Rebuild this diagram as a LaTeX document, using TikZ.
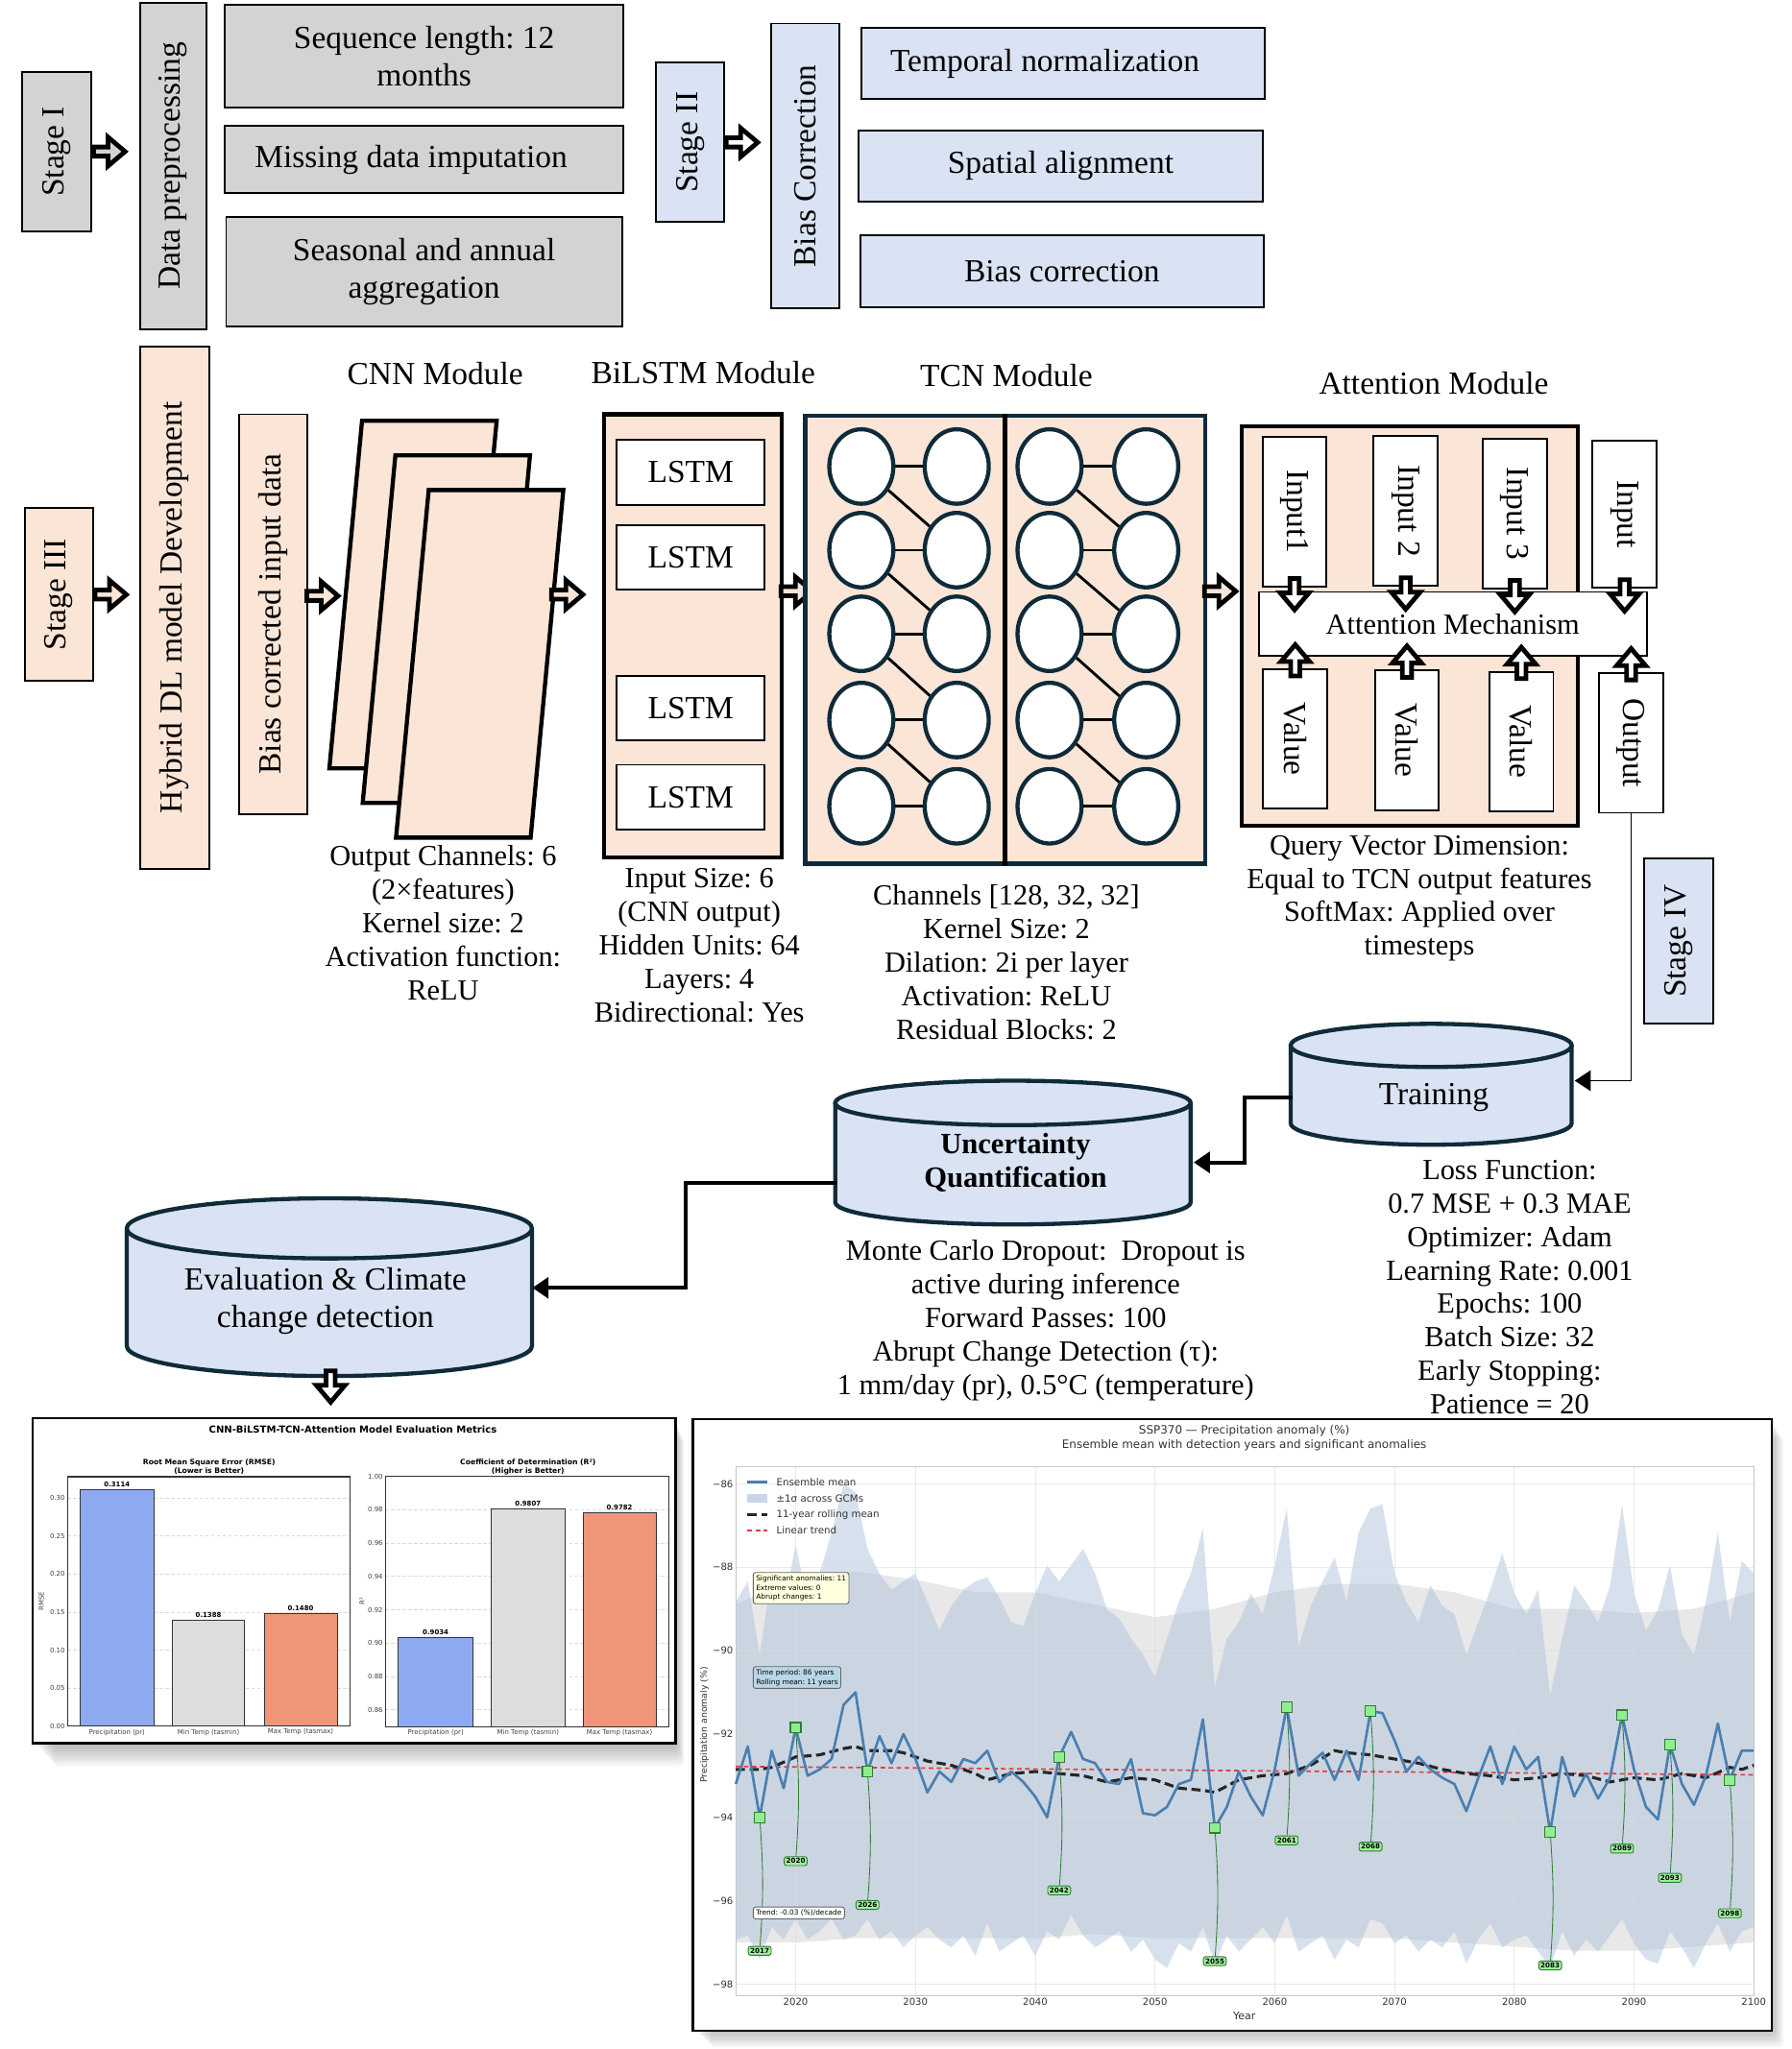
\documentclass[tikz,border=0pt]{standalone}
\usepackage{graphicx}
\usepackage{fontspec}
\setmainfont{Liberation Serif}
\newfontfamily\plotfont{DejaVu Sans}
\frenchspacing
\usetikzlibrary{positioning, arrows.meta, calc, shapes.geometric}
\definecolor{stonegrey}{HTML}{D3D3D3}
\definecolor{iceblue}{HTML}{DAE3F3}
\definecolor{peach}{HTML}{FBE5D6}
\definecolor{inkblue}{HTML}{0F2B3A}
\definecolor{meanblue}{HTML}{4A7FB0}
\definecolor{sigmablue}{HTML}{B0C4DE}
\definecolor{barblue}{HTML}{8DAAF0}
\definecolor{bargrey}{HTML}{DDDDDD}
\definecolor{barsalmon}{HTML}{EE957A}
\definecolor{flagreen}{HTML}{90EE90}
\definecolor{leafgreen}{HTML}{2E7D32}
\definecolor{noteyellow}{HTML}{FFFFE0}
\definecolor{noteblue}{HTML}{B8D8E8}
\definecolor{trendred}{HTML}{E03C3C}

\tikzset{
  pics/hollow/.style={code={
    \draw[line width=2pt, fill=#1, line join=miter]
      (-12,-3.5) -- (-1,-3.5) -- (-1,-11) -- (12,0) -- (-1,11) -- (-1,3.5) -- (-12,3.5) -- cycle;}},
  pics/hollow/.default=white
}

% drum: centre x, top y, bottom y, x radius, y radius
\newcommand{\drum}[5]{%
  \fill[iceblue] (#1-#4,#2) -- (#1-#4,#3) arc[start angle=180, end angle=0, x radius=#4, y radius=#5] -- (#1+#4,#2) -- cycle;
  \draw[inkblue, line width=1.8pt] (#1-#4,#2) -- (#1-#4,#3) arc[start angle=180, end angle=0, x radius=#4, y radius=#5] -- (#1+#4,#2);
  \draw[inkblue, line width=1.8pt, fill=iceblue] (#1,#2) ellipse[x radius=#4, y radius=#5];}

\begin{document}
\begin{tikzpicture}[x=0.02cm, y=-0.02cm,
    box/.style={draw, line width=0.8pt, inner sep=0pt, align=center,
      font=\fontsize{14}{16.3}\selectfont},
    greybox/.style={box, fill=stonegrey},
    coolbox/.style={box, fill=iceblue},
    warmbox/.style={box, fill=peach},
    whitebox/.style={box, fill=white},
    heavy/.style={draw, line width=1.8pt, inner sep=0pt},
    neuron/.style={ellipse, draw=inkblue, line width=1.8pt, fill=white,
      minimum width=0.98cm, minimum height=1.14cm, inner sep=0pt},
    link/.style={line width=1.2pt},
    modtitle/.style={inner sep=0pt, font=\fontsize{14}{16}\selectfont},
    notes/.style={inner sep=0pt, align=center, font=\fontsize{12.7}{14.6}\selectfont},
    flow/.style={line width=1.7pt, -{Triangle[length=7pt, width=9pt]}},
    feed/.style={line width=0.8pt, -{Triangle[length=7pt, width=9pt]}},
    drumtext/.style={inner sep=0pt, align=center},
    panel/.style={draw, line width=0.9pt, fill=white, inner sep=0pt},
    plottitle/.style={inner sep=0pt, font=\plotfont\bfseries\fontsize{4.2}{5}\selectfont},
    plotsub/.style={inner sep=0pt, align=center, font=\plotfont\bfseries\fontsize{3.2}{3.9}\selectfont},
    ticktext/.style={inner sep=1pt, text=black!75, font=\plotfont\fontsize{2.9}{3.4}\selectfont},
    barval/.style={inner sep=1pt, font=\plotfont\bfseries\fontsize{2.9}{3.4}\selectfont},
    barline/.style={draw=black!80, line width=0.35pt},
    gridline/.style={black!14, line width=0.3pt},
    axisline/.style={black!80, line width=0.45pt},
    seriestext/.style={inner sep=1pt, text=black!80, font=\plotfont\fontsize{4.3}{5}\selectfont},
    meanline/.style={meanblue, line width=1.1pt, line join=round},
    rollline/.style={black!85, line width=1.3pt, dash pattern=on 4pt off 2pt},
    trendline/.style={trendred, line width=0.7pt, dash pattern=on 2pt off 1.5pt},
    leader/.style={leafgreen, line width=0.35pt},
    marksq/.style={draw=leafgreen, fill=flagreen, line width=0.5pt, minimum size=0.16cm, inner sep=0pt},
    flag/.style={draw=leafgreen, fill=flagreen!85, rounded corners=1pt, inner sep=0.8pt,
      font=\plotfont\bfseries\fontsize{3}{3.5}\selectfont},
    infobox/.style={draw=black!60, line width=0.4pt, rounded corners=1pt, align=left,
      inner sep=1.2pt, font=\plotfont\fontsize{3.1}{4.1}\selectfont}]

  \fill[white] (0,0) rectangle (1371,1568);
  \useasboundingbox (0,0) rectangle (1371,1568);

  % Stage I
  \node[greybox, minimum width=1.06cm, minimum height=2.44cm] (stage1) at (43.5,116) {\rotatebox{90}{Stage I}};
  \node[greybox, minimum width=1.02cm, minimum height=5cm] (prep) at (132.5,127) {\rotatebox{90}{Data preprocessing}};
  \node[greybox, minimum width=6.1cm, minimum height=1.56cm] (seqlen) at (324.5,43) {Sequence length: 12\\months};
  \node[greybox, minimum width=6.1cm, minimum height=1.04cm] (impute) at (324.5,122) {Missing data imputation\hspace*{0.4cm}};
  \node[greybox, minimum width=6.06cm, minimum height=1.68cm] (aggr) at (324.5,208) {Seasonal and annual\\aggregation};
  \pic at ($(stage1.east)+(13,0)$) {hollow=stonegrey};

  % Stage II
  \node[coolbox, minimum width=1.04cm, minimum height=2.44cm] (stage2) at (528,109) {\rotatebox{90}{Stage II}};
  \node[coolbox, minimum width=1.04cm, minimum height=4.36cm] (biascorr) at (616,127) {\rotatebox{90}{Bias Correction}};
  \node[coolbox, minimum width=6.18cm, minimum height=1.1cm] (tempnorm) at (813.5,48.5) {Temporal normalization\hspace*{0.56cm}};
  \node[coolbox, minimum width=6.18cm, minimum height=1.08cm] (spatial) at (811.5,127) {Spatial alignment};
  \node[coolbox, minimum width=6.18cm, minimum height=1.1cm] (bcstep) at (812.5,207.5) {Bias correction};
  \pic at ($(stage2.east)+(13,0)$) {hollow};

  % Stage III
  \node[warmbox, minimum width=1.04cm, minimum height=2.64cm] (stage3) at (45,455) {\rotatebox{90}{Stage III}};
  \node[warmbox, minimum width=1.06cm, minimum height=8cm] (hybrid) at (133.5,465) {\rotatebox{90}{Hybrid DL model Development}};
  \node[warmbox, minimum width=1.04cm, minimum height=6.12cm] (bcinput) at (209,470) {\rotatebox{90}{Bias corrected input data}};
  \pic at ($(stage3.east)+(13,0)$) {hollow=peach};
  \pic at ($(bcinput.east)+(11,-14)$) {hollow=peach};

  % CNN
  \node[modtitle] (cnntitle) at (333,286) {CNN Module};
  \foreach \d in {0,1,2}
    \draw[fill=peach, line width=1.8pt] ({277+25.5*\d},{322+26.5*\d}) -- ++(103,0) -- ++(-25,266) -- ++(-103,0) -- cycle;
  \coordinate (cnnout) at (423,455);
  \pic at ($(cnnout)+(11,0)$) {hollow=peach};
  \node[notes] (cnnnotes) at (339,706) {Output Channels: 6\\(2×features)\\Kernel size: 2\\Activation function:\\ReLU};

  % BiLSTM
  \node[modtitle] (lstmtitle) at (538,285) {BiLSTM Module};
  \node[heavy, fill=peach, minimum width=2.72cm, minimum height=6.78cm] (bilstm) at (530,486.5) {};
  \foreach \n/\y in {1/361.5, 2/426.5, 3/542, 4/610}
    \node[whitebox, minimum width=2.26cm, minimum height=0.99cm] (lstm\n) at (528.5,\y) {LSTM};
  \pic at ($(bilstm.east)+(10,-34)$) {hollow=peach};
  \node[notes] (lstmnotes) at (535,723.5) {Input Size: 6\\(CNN output)\\Hidden Units: 64\\Layers: 4\\Bidirectional: Yes};

  % TCN
  \node[modtitle] (tcntitle) at (770,287) {TCN Module};
  \node[heavy, draw=inkblue, fill=peach, minimum width=6.12cm, minimum height=6.86cm] (tcn) at (769,489.5) {};
  \draw[line width=1.8pt] (tcn.north) -- (tcn.south);
  \foreach \c/\x in {1/659, 2/732, 3/803, 4/877}
    \foreach \r/\y in {1/357, 2/421, 3/485, 4/551, 5/617}
      \node[neuron] (n\c\r) at (\x,\y) {};
  \foreach \r in {1,...,5} {
    \draw[link] (n1\r) -- (n2\r);
    \draw[link] (n3\r) -- (n4\r);
  }
  \foreach \r/\s in {1/2, 2/3, 3/4, 4/5} {
    \draw[link] (n1\r) -- (n2\s);
    \draw[link] (n3\r) -- (n4\s);
  }
  \pic at ($(tcn.east)+(10,-37)$) {hollow=peach};
  \node[notes] (tcnnotes) at (770,736.5) {Channels [128, 32, 32]\\Kernel Size: 2\\Dilation: 2i per layer\\Activation: ReLU\\Residual Blocks: 2};

  % Attention
  \node[modtitle] (atttitle) at (1097,293) {Attention Module};
  \node[heavy, fill=peach, minimum width=5.14cm, minimum height=6.12cm] (att) at (1078.5,479) {};
  \node[whitebox, minimum width=0.98cm, minimum height=2.3cm] (in1) at (990.5,391.5) {\rotatebox{-90}{Input1}};
  \node[whitebox, minimum width=0.98cm, minimum height=2.3cm] (in2) at (1075.5,391) {\rotatebox{-90}{Input 2}};
  \node[whitebox, minimum width=0.98cm, minimum height=2.3cm] (in3) at (1159,393) {\rotatebox{-90}{Input 3}};
  \node[whitebox, minimum width=0.98cm, minimum height=2.26cm] (in4) at (1243,393.5) {\rotatebox{-90}{Input}};
  \node[whitebox, minimum width=5.94cm, minimum height=0.98cm, font=\fontsize{12.7}{14}\selectfont] (mech) at (1111.5,477.5) {Attention Mechanism};
  \node[whitebox, minimum width=0.98cm, minimum height=2.14cm] (val1) at (991,565.5) {\rotatebox{-90}{Value}};
  \node[whitebox, minimum width=0.98cm, minimum height=2.14cm] (val2) at (1076.5,566.5) {\rotatebox{-90}{Value}};
  \node[whitebox, minimum width=0.98cm, minimum height=2.14cm] (val3) at (1164,567.5) {\rotatebox{-90}{Value}};
  \node[whitebox, minimum width=0.98cm, minimum height=2.14cm] (outp) at (1248,568.5) {\rotatebox{-90}{Output}};
  \foreach \i in {in1, in2, in3, in4}
    \pic[rotate=-90] at ($(\i.south)+(0,5)$) {hollow};
  \foreach \v in {val1, val2, val3, outp}
    \pic[rotate=90] at ($(\v.north)+(0,-6)$) {hollow};
  \node[notes] (attnotes) at (1086,687.5) {Query Vector Dimension:\\Equal to TCN output features\\SoftMax: Applied over\\timesteps};

  % Stage IV
  \node[coolbox, minimum width=1.06cm, minimum height=2.52cm] (stage4) at (1284.5,720) {\rotatebox{90}{Stage IV}};

  % drums
  \drum{1095}{800}{859.5}{107.5}{16.5}
  \node[drumtext, font=\fontsize{14}{16}\selectfont, minimum width=4.3cm] (train) at (1097,840) {Training};
  \drum{775}{844}{920}{136}{17}
  \node[drumtext, font=\bfseries\fontsize{12.8}{14.6}\selectfont, minimum width=5.44cm] (uq) at (777,889.5) {Uncertainty\\Quantification};
  \drum{252}{940}{1030}{155}{23}
  \node[drumtext, font=\fontsize{14}{16.5}\selectfont, minimum width=6.32cm] (evalc) at (249,995.5) {Evaluation \& Climate\\change detection};

  \draw[feed] (outp.south) |- ($(train.east)+(0,-13)$);
  \draw[flow] (train.west) -- ++(-37,0) |- (uq.east);
  \draw[flow] ($(uq.west)+(0,16)$) -- ++(-116,0) |- ($(evalc.east)+(0,-10)$);
  \pic[rotate=-90] at ($(evalc)+(4,65.5)$) {hollow};

  \node[notes] (uqnotes) at (800,1010.5) {Monte Carlo Dropout:\ \ Dropout is\\active during inference\\Forward Passes: 100\\Abrupt Change Detection (τ):\\1 mm/day (pr), 0.5°C (temperature)};
  \node[notes] (trainnotes) at (1155,985) {Loss Function:\\0.7 MSE + 0.3 MAE\\Optimizer: Adam\\Learning Rate: 0.001\\Epochs: 100\\Batch Size: 32\\Early Stopping:\\Patience = 20};

  % metrics panel
  \foreach \k in {1,...,8}
    \fill[black, opacity=0.035, rounded corners=2pt] (25+2*\k,1085+2*\k) rectangle (517+0.8*\k,1334+2.2*\k);
  \node[panel, minimum width=9.84cm, minimum height=4.98cm] (metrics) at (271,1209.5) {};
  \node[plottitle] (mtitle) at (270,1094) {CNN-BiLSTM-TCN-Attention Model Evaluation Metrics};
  \node[plotsub] (rmsetitle) at (160,1122.5) {Root Mean Square Error (RMSE)\\(Lower is Better)};
  \node[plotsub] (r2title) at (404,1122.5) {Coefficient of Determination (R²)\\(Higher is Better)};

  \begin{scope}[shift={(51.7,1321)}, y={(0cm,11.652cm)}]
    \foreach \v in {0.05,0.1,0.15,0.2,0.25,0.3}
      \draw[gridline, dash pattern=on 1.5pt off 1pt] (0,\v) -- (216.3,\v);
    \draw[barline, fill=barblue] (9.3,0) rectangle (66.3,0.3114);
    \draw[barline, fill=bargrey] (80.3,0) rectangle (135.3,0.1388);
    \draw[barline, fill=barsalmon] (150.3,0) rectangle (206.3,0.1480);
    \draw[axisline] (0,0) rectangle (216.3,0.3278);
    \foreach \v/\t [count=\i] in {0/0.00, 0.05/0.05, 0.1/0.10, 0.15/0.15, 0.2/0.20, 0.25/0.25, 0.3/0.30}
      \node[ticktext, left] (lt\i) at (0,\v) {\t};
    \node[barval, above] (lv1) at (37.8,0.3114) {0.3114};
    \node[barval, above] (lv2) at (107.8,0.1388) {0.1388};
    \node[barval, above] (lv3) at (178.3,0.1480) {0.1480};
    \node[ticktext, below] (lx1) at (37.8,0) {Precipitation (pr)};
    \node[ticktext, below] (lx2) at (107.8,0) {Min Temp (tasmin)};
    \node[ticktext, below] (lx3) at (178.3,0) {Max Temp (tasmax)};
    \node[ticktext, rotate=90] (lylab) at (-20,0.164) {RMSE};
  \end{scope}

  \begin{scope}[shift={(295,2406.45)}, y={(0cm,25.54cm)}]
    \foreach \v in {0.86,0.88,0.9,0.92,0.94,0.96,0.98}
      \draw[gridline, dash pattern=on 1.5pt off 1pt] (0,\v) -- (217,\v);
    \draw[barline, fill=barblue] (9.7,0.85) rectangle (67,0.9034);
    \draw[barline, fill=bargrey] (81,0.85) rectangle (137,0.9807);
    \draw[barline, fill=barsalmon] (151,0.85) rectangle (207,0.9782);
    \draw[axisline] (0,0.85) rectangle (217,1);
    \foreach \v/\t [count=\i] in {0.86/0.86, 0.88/0.88, 0.9/0.90, 0.92/0.92, 0.94/0.94, 0.96/0.96, 0.98/0.98, 1/1.00}
      \node[ticktext, left] (rt\i) at (0,\v) {\t};
    \node[barval, above] (rv1) at (38.3,0.9034) {0.9034};
    \node[barval, above] (rv2) at (109,0.9807) {0.9807};
    \node[barval, above] (rv3) at (179,0.9782) {0.9782};
    \node[ticktext, below] (rx1) at (38.3,0.85) {Precipitation (pr)};
    \node[ticktext, below] (rx2) at (109,0.85) {Min Temp (tasmin)};
    \node[ticktext, below] (rx3) at (179,0.85) {Max Temp (tasmax)};
    \node[ticktext, rotate=90] (rylab) at (-18,0.925) {R²};
  \end{scope}

  % anomaly panel
  \foreach \k in {1,...,7}
    \fill[black, opacity=0.035, rounded corners=2pt] (530+2*\k,1086+2*\k) rectangle (1356+1.2*\k,1554+1.8*\k);
  \node[panel, minimum width=16.52cm, minimum height=9.36cm] (anomaly) at (943,1320) {};
  \node[seriestext, font=\plotfont\fontsize{5}{6}\selectfont] (atitle) at (952,1095) {SSP370 — Precipitation anomaly (\%)};
  \node[seriestext, font=\plotfont\fontsize{5}{6}\selectfont] (asub) at (952,1106) {Ensemble mean with detection years and significant anomalies};

  \begin{scope}[shift={(425.5,-1608.2)}, x={(0.1833cm,0cm)}, y={(0cm,0.6382cm)}]
    \begin{scope}
      \clip (15,-85.59) rectangle (100,-98.28);
      \fill[black!9] plot coordinates {(15,-88.9) (20,-88.2) (25,-88.1) (30,-88.3) (35,-88.6) (40,-88.6) (45,-88.9) (50,-89.2) (55,-89.0) (60,-88.6) (65,-88.4) (70,-88.4) (75,-88.6) (80,-89.0) (85,-89.0) (90,-89.1) (95,-89.0) (100,-88.6)}
        -- plot coordinates {(100,-97.0) (95,-97.1) (90,-97.2) (85,-97.2) (80,-97.1) (75,-97.0) (70,-96.9) (65,-96.9) (60,-96.9) (55,-96.9) (50,-96.9) (45,-96.8) (40,-96.9) (35,-96.9) (30,-96.9) (25,-96.9) (20,-97.0) (15,-97.0)} -- cycle;
      \fill[sigmablue, opacity=0.5] plot coordinates {(15,-88.83) (16,-88.34) (17,-90.10) (18,-88.15) (19,-88.93) (20,-87.46) (21,-88.83) (22,-88.15) (23,-87.17) (24,-86.0) (25,-86.2) (26,-87.56) (27,-88.15) (28,-88.54) (29,-88.34) (30,-88.15) (31,-88.83) (32,-89.51) (33,-88.93) (34,-88.54) (35,-88.34) (36,-88.24) (37,-88.73) (38,-89.32) (39,-89.41) (40,-88.63) (41,-87.95) (42,-88.34) (43,-87.95) (44,-87.56) (45,-88.15) (46,-89.02) (47,-89.22) (48,-89.71) (49,-90.10) (50,-90.63) (51,-89.71) (52,-88.83) (53,-88.15) (54,-87.07) (55,-90.88) (56,-89.71) (57,-89.32) (58,-88.63) (59,-89.12) (60,-87.95) (61,-86.59) (62,-89.90) (63,-88.93) (64,-88.34) (65,-87.76) (66,-88.83) (67,-87.17) (68,-86.59) (69,-86.49) (70,-88.15) (71,-88.83) (72,-89.32) (73,-88.44) (74,-88.93) (75,-89.12) (76,-90.10) (77,-89.32) (78,-88.54) (79,-87.66) (80,-88.63) (81,-89.12) (82,-88.54) (83,-91.07) (84,-89.71) (85,-88.44) (86,-88.83) (87,-89.32) (88,-88.44) (89,-86.49) (90,-88.63) (91,-89.51) (92,-89.02) (93,-87.95) (94,-89.61) (95,-90.10) (96,-88.83) (97,-87.17) (98,-89.32) (99,-87.85) (100,-88.15)}
        -- plot coordinates {(100,-96.63) (99,-96.73) (98,-97.22) (97,-96.54) (96,-97.02) (95,-97.61) (94,-97.12) (93,-96.73) (92,-97.51) (91,-97.41) (90,-97.02) (89,-96.44) (88,-96.83) (87,-97.22) (86,-96.93) (85,-97.32) (84,-96.73) (83,-97.61) (82,-97.22) (81,-96.83) (80,-96.93) (79,-97.12) (78,-96.54) (77,-96.93) (76,-97.51) (75,-96.73) (74,-97.12) (73,-96.93) (72,-97.22) (71,-96.83) (70,-97.02) (69,-96.54) (68,-96.44) (67,-97.12) (66,-96.93) (65,-97.41) (64,-96.83) (63,-97.02) (62,-97.22) (61,-96.34) (60,-97.02) (59,-96.63) (58,-96.93) (57,-97.22) (56,-96.83) (55,-97.51) (54,-96.63) (53,-97.22) (52,-97.02) (51,-97.61) (50,-97.41) (49,-96.93) (48,-97.22) (47,-96.73) (46,-96.93) (45,-97.12) (44,-96.83) (43,-96.34) (42,-96.93) (41,-96.73) (40,-97.32) (39,-96.83) (38,-97.02) (37,-97.22) (36,-96.54) (35,-97.32) (34,-96.83) (33,-97.12) (32,-96.93) (31,-96.63) (30,-96.83) (29,-97.12) (28,-96.73) (27,-96.93) (26,-96.44) (25,-96.83) (24,-96.93) (23,-96.44) (22,-96.73) (21,-96.93) (20,-96.44) (19,-96.93) (18,-96.63) (17,-97.41) (16,-96.83) (15,-96.93)} -- cycle;
    \end{scope}
    \foreach \yr in {20,30,...,100}
      \draw[gridline, opacity=0.6] (\yr,-85.59) -- (\yr,-98.28);
    \foreach \v in {86,88,...,98}
      \draw[gridline, opacity=0.6] (15,-\v) -- (100,-\v);
    \draw[black!22, line width=0.5pt] (15,-85.59) rectangle (100,-98.28);

    \draw[trendline] (15,-92.78) -- (100,-92.98);
    \draw[rollline] plot coordinates {(15,-92.85) (17,-92.85) (18,-92.8) (20,-92.55) (22,-92.5) (24,-92.35) (25,-92.3) (26,-92.4) (28,-92.4) (29,-92.45) (31,-92.65) (33,-92.75) (35,-92.95) (36,-93.1) (38,-92.95) (40,-92.9) (42,-92.95) (44,-93.0) (46,-93.15) (48,-93.05) (50,-93.1) (52,-93.3) (54,-93.35) (55,-93.4) (57,-93.1) (59,-93.0) (61,-92.95) (63,-92.75) (65,-92.4) (66,-92.45) (68,-92.5) (70,-92.6) (72,-92.7) (74,-92.85) (76,-92.95) (78,-93.0) (80,-93.1) (82,-93.05) (84,-92.95) (86,-93.0) (88,-93.15) (90,-93.05) (92,-93.1) (94,-92.95) (96,-93.05) (98,-92.8) (99,-92.85) (100,-92.75)};
    \draw[meanline] plot coordinates {(15,-93.2) (16,-92.3) (17,-94.0) (18,-92.4) (19,-93.3) (20,-91.85) (21,-93.0) (22,-92.85) (23,-92.6) (24,-91.3) (25,-91.0) (26,-92.9) (27,-92.05) (28,-92.7) (29,-92.0) (30,-92.6) (31,-93.4) (32,-92.9) (33,-93.15) (34,-92.6) (35,-92.7) (36,-92.4) (37,-93.15) (38,-92.9) (39,-93.15) (40,-93.5) (41,-94.0) (42,-92.55) (43,-91.95) (44,-92.6) (45,-92.7) (46,-93.15) (47,-93.2) (48,-92.6) (49,-93.9) (50,-93.95) (51,-93.75) (52,-93.2) (53,-93.1) (54,-91.65) (55,-94.25) (56,-93.75) (57,-92.9) (58,-93.5) (59,-93.95) (60,-92.85) (61,-91.35) (62,-93.0) (63,-92.7) (64,-92.45) (65,-93.1) (66,-92.4) (67,-93.1) (68,-91.45) (69,-91.5) (70,-92.15) (71,-92.9) (72,-92.55) (73,-92.85) (74,-93.05) (75,-93.2) (76,-93.85) (77,-93.05) (78,-92.3) (79,-93.2) (80,-92.3) (81,-92.85) (82,-92.55) (83,-94.35) (84,-92.55) (85,-93.5) (86,-92.95) (87,-93.55) (88,-93.05) (89,-91.55) (90,-92.85) (91,-93.75) (92,-94.05) (93,-92.25) (94,-93.2) (95,-93.7) (96,-93.0) (97,-91.75) (98,-93.1) (99,-92.4) (100,-92.4)};

    \foreach \yr/\v/\lv in {17/-94.0/-97.2, 20/-91.85/-95.05, 26/-92.9/-96.1, 42/-92.55/-95.75, 55/-94.25/-97.45, 61/-91.35/-94.55, 68/-91.45/-94.7, 83/-94.35/-97.55, 89/-91.55/-94.75, 93/-92.25/-95.45, 98/-93.1/-96.3} {
      \node[marksq] (mk\yr) at (\yr,\v) {};
      \node[flag] (lab\yr) at (\yr,\lv) {20\yr};
      \draw[leader] (mk\yr) to[bend left=4] (lab\yr);
    }

    \foreach \yr in {20,30,...,90}
      \node[seriestext, below, font=\plotfont\fontsize{4.2}{5}\selectfont] (xt\yr) at (\yr,-98.28) {20\yr};
    \node[seriestext, below, font=\plotfont\fontsize{4.2}{5}\selectfont] (xt100) at (100,-98.28) {2100};
    \foreach \v in {86,88,...,98}
      \node[seriestext, left, font=\plotfont\fontsize{4.2}{5}\selectfont] (yt\v) at (15,-\v) {−\v};
  \end{scope}

  % legend and notes
  \draw[meanblue, line width=1pt] (572,1134) -- (587,1134);
  \node[seriestext, right] (leg1) at (592,1134) {Ensemble mean};
  \fill[sigmablue!70] (572,1143) rectangle (587,1150);
  \node[seriestext, right] (leg2) at (592,1146.5) {±1σ across GCMs};
  \draw[rollline] (572,1159) -- (587,1159);
  \node[seriestext, right] (leg3) at (592,1159) {11-year rolling mean};
  \draw[trendline] (572,1171) -- (587,1171);
  \node[seriestext, right] (leg4) at (592,1171) {Linear trend};

  \node[infobox, fill=noteyellow, anchor=north west] (stats) at (576,1203) {Significant anomalies: 11\\Extreme values: 0\\Abrupt changes: 1};
  \node[infobox, fill=noteblue, anchor=north west] (period) at (576,1275) {Time period: 86 years\\Rolling mean: 11 years};
  \node[infobox, fill=white, anchor=north west] (trendnote) at (576,1459) {Trend: -0.03 (\%)/decade};

  \node[seriestext, font=\plotfont\fontsize{4.6}{5.5}\selectfont] (xlab) at (952,1543) {Year};
  \node[seriestext, rotate=90, font=\plotfont\fontsize{3.9}{4.5}\selectfont] (ylab) at (539,1320) {Precipitation anomaly (\%)};
\end{tikzpicture}
\end{document}
